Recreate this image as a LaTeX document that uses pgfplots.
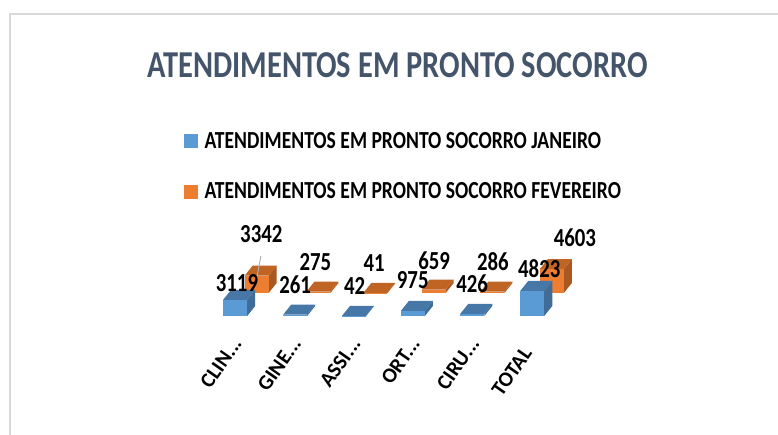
\documentclass[border=0pt]{standalone}
\usepackage{fontspec}
\setmainfont{Carlito}
\newfontfamily\narrowfont[FakeStretch=0.8]{Carlito}
\usepackage{pgfplots}
\pgfplotsset{compat=1.18}
\definecolor{titlecol}{HTML}{44546A}
\definecolor{framecol}{HTML}{D9D9D9}
\definecolor{bluefront}{HTML}{5B9BD5}
\definecolor{bluetop}{HTML}{4677A6}
\definecolor{blueside}{HTML}{3F6D98}
\definecolor{orangefront}{HTML}{ED7D31}
\definecolor{orangetop}{HTML}{BF6422}
\definecolor{orangeside}{HTML}{A9581F}

% one bar: x of the left edge, base, value, colour prefix
\newcommand{\blockbar}[4]{%
  \pgfmathsetmacro{\xr}{#1+0.404}%
  \pgfmathsetmacro{\xa}{#1+0.135}%
  \pgfmathsetmacro{\xb}{#1+0.539}%
  \pgfmathsetmacro{\yt}{#2+#3}%
  \pgfmathsetmacro{\ya}{#2+#3+1923}%
  \pgfmathsetmacro{\yc}{#2+1923}%
  \edef\temp{%
    \noexpand\addplot[fill=#4side,draw=none,forget plot] coordinates {(\xr,#2) (\xb,\yc) (\xb,\ya) (\xr,\yt)};
    \noexpand\addplot[fill=#4top,draw=none,forget plot] coordinates {(#1,\yt) (\xa,\ya) (\xb,\ya) (\xr,\yt)};
    \noexpand\addplot[fill=#4front,draw=none,forget plot] coordinates {(#1,#2) (#1,\yt) (\xr,\yt) (\xr,#2)};
  }\temp
}

\begin{document}
\begin{tikzpicture}
  \useasboundingbox (0,0) rectangle (778pt,435pt);
  \begin{axis}[
    at={(0,0)},anchor=south west,
    scale only axis,width=778pt,height=435pt,
    xmin=-3.96,xmax=9.14,
    ymin=-22885,ymax=60769,
    clip=false,
    axis line style={draw=none},
    major tick length=0pt,
    ytick=\empty,
    xtick={0,1,2,3,4,5},
    xticklabels={CLIN.{}..,GINE.{}..,ASSI.{}..,ORT.{}..,CIRU.{}..,{TOTAL\hspace*{12pt}}},
    x tick label style={rotate=55,anchor=east,font=\fontsize{21}{21}\selectfont\bfseries,yshift=53pt,xshift=82.6pt},
    legend style={at={(181/778,1-128/435)},anchor=north west,draw=none,fill=none,
      font=\fontsize{24.5}{24.5}\selectfont\narrowfont\bfseries,row sep=29pt,
      legend cell align=left},
    legend image code/.code={\fill[#1] (0pt,-6.5pt) rectangle (13pt,6.5pt);\path (18pt,0pt);},
  ]
    \addlegendimage{bluefront,fill=bluefront}
    \addlegendentry{ATENDIMENTOS EM PRONTO SOCORRO JANEIRO}
    \addlegendimage{orangefront,fill=orangefront}
    \addlegendentry{ATENDIMENTOS EM PRONTO SOCORRO FEVEREIRO}

    % fevereiro, behind
    \blockbar{0.16}{4423}{3342}{orange}
    \blockbar{1.20}{4423}{275}{orange}
    \blockbar{2.16}{4423}{41}{orange}
    \blockbar{3.14}{4423}{659}{orange}
    \blockbar{4.13}{4423}{286}{orange}
    \blockbar{5.13}{4423}{4603}{orange}
    % janeiro, in front
    \blockbar{-0.202}{0}{3119}{blue}
    \blockbar{0.808}{0}{261}{blue}
    \blockbar{1.80}{0}{42}{blue}
    \blockbar{2.79}{0}{975}{blue}
    \blockbar{3.79}{0}{426}{blue}
    \blockbar{4.80}{0}{4823}{blue}

    % leader line of the 3342 label
    \addplot[draw=black!30,line width=1pt,forget plot] coordinates {(0.433,11540) (0.365,7370)};

    % value labels
    \addplot[only marks,mark=none,forget plot,point meta=explicit symbolic,
      nodes near coords,nodes near coords align=center,
      every node near coord/.append style={font=\fontsize{26}{26}\selectfont\narrowfont\bfseries,text=black}]
      coordinates {
      (0.03,6300)[3119] (1.01,5960)[261] (2.01,5770)[42] (2.99,6920)[975] (3.99,6150)[426] (5.12,9040)[4823]
      (0.44,15770)[3342] (1.35,10380)[275] (2.34,10190)[41] (3.35,10580)[659] (4.34,10380)[286] (5.72,14960)[4603]
    };

    \node[font=\fontsize{38}{38}\selectfont\narrowfont\bfseries,text=titlecol] at (rel axis cs:0.511,0.85) {ATENDIMENTOS EM PRONTO SOCORRO};
  \end{axis}
  \draw[framecol,line width=2.5pt] (10pt,0pt) -- (10pt,421pt) -- (778pt,421pt);
\end{tikzpicture}
\end{document}
